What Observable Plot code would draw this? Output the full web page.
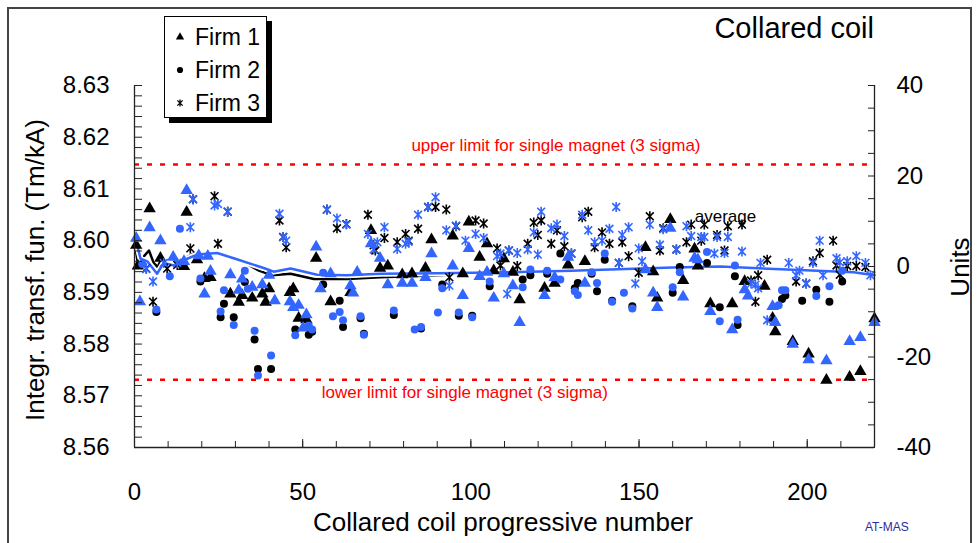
<!DOCTYPE html>
<html><head><meta charset="utf-8">
<script src="https://cdn.jsdelivr.net/npm/d3@7"></script>
<script src="https://cdn.jsdelivr.net/npm/@observablehq/plot@0.6"></script>
<style>
body{margin:0;background:#fff;font-family:"Liberation Sans",Arial,sans-serif}
#wrap{position:relative;width:978px;height:543px;overflow:hidden;background:#fff}
#wrap svg{position:absolute;left:0;top:0}
</style></head><body><div id="wrap"></div>
<script>
// ---- data: [coil number, integrated transfer function (Tm/kA)] ----
const firm1Black = [[0.5,8.5991],[1,8.5951],[4.5,8.6062],[7.7,8.5966],[14.7,8.5950],[15.5,8.6055],[18.6,8.5963],[20.8,8.5927],[22.6,8.5929],[28.5,8.5897],[31,8.5881],[32,8.5894],[35,8.5889],[38,8.5897],[39,8.5881],[40,8.5907],[46.2,8.5900],[47.2,8.5907],[48.8,8.5850],[51.1,8.5847],[54,8.5966],[58.3,8.5882],[64.2,8.5900],[70.3,8.6020],[73,8.5947],[75.3,8.5951],[79.6,8.5934],[82.5,8.5936],[86.5,8.5947],[88.3,8.6002],[94.6,8.6009],[97.6,8.5936],[99.4,8.6036],[102.6,8.5968],[104.8,8.5994],[106.8,8.5942],[109.8,8.5965],[112.5,8.5939],[114.5,8.5886],[121.9,8.5908],[124.9,8.5918],[128.9,8.5953],[133.9,8.5960],[151.9,8.5987],[154.2,8.5940],[155.4,8.5889],[159.3,8.6041],[163.1,8.5923],[166.5,8.5984],[167.5,8.5951],[171.2,8.5878],[177.7,8.5878],[181.4,8.5921],[187.3,8.5912],[189.7,8.5850],[190.5,8.5824],[195.7,8.5805],[200.4,8.5781],[205.7,8.5730],[212.6,8.5736],[215.8,8.5747],[220,8.5849]];
const firm1Blue = [[0.5,8.6005],[1.6,8.5882],[4.5,8.6025],[7.7,8.6000],[11.5,8.5968],[14.7,8.5960],[15.5,8.6097],[19.1,8.5971],[20.8,8.5897],[21.8,8.5970],[22.6,8.5941],[28.5,8.5934],[31,8.5904],[32,8.5926],[35,8.5910],[38,8.5915],[40,8.5933],[41.7,8.5884],[46.2,8.5882],[47.2,8.5871],[48.8,8.5875],[50.1,8.5831],[51.1,8.5857],[54,8.5988],[55.3,8.5907],[58.3,8.5936],[64.2,8.5913],[65,8.5899],[66.2,8.5939],[70.3,8.5994],[73,8.5966],[75.3,8.5915],[79.6,8.5918],[82.5,8.5918],[86.5,8.5929],[88.3,8.5975],[94.6,8.5951],[97.6,8.5894],[99.4,8.5985],[102.6,8.5931],[104.8,8.5939],[106.8,8.5889],[109.8,8.5936],[112.5,8.5913],[114.5,8.5842],[121.9,8.5894],[124.9,8.5929],[128.9,8.5968],[133.9,8.5918],[151.9,8.5944],[154.2,8.5899],[155.4,8.5871],[159.3,8.6024],[163.1,8.5891],[166.5,8.5966],[167.5,8.5963],[171.2,8.5863],[177.7,8.5828],[181.4,8.5905],[182.4,8.5893],[189.7,8.5873],[190.5,8.5842],[195.7,8.5800],[200.4,8.5770],[205.7,8.5768],[212.6,8.5805],[215.8,8.5813],[220,8.5842]];
const firm2Black = [[6.5,8.5862],[19.6,8.5921],[25.6,8.5852],[26.6,8.5878],[29.5,8.5852],[32.8,8.5920],[35.7,8.5809],[36.7,8.5752],[40.6,8.5752],[47.8,8.5828],[51.8,8.5818],[52.8,8.5824],[56.1,8.5915],[61,8.5884],[62,8.5833],[67.2,8.5850],[68.2,8.5820],[77.1,8.5856],[85.2,8.5830],[91.5,8.5915],[96.4,8.5855],[100.4,8.5855],[105.6,8.5912],[115.4,8.5925],[117.7,8.5933],[122.7,8.5936],[126.6,8.5975],[130.9,8.5908],[131.8,8.5918],[135.9,8.5936],[137.5,8.5902],[139.8,8.5963],[142,8.5884],[148,8.5873],[160,8.5899],[162.1,8.5949],[170.2,8.5957],[174,8.5871],[178.5,8.5931],[179.3,8.5837],[192.5,8.5887],[193.5,8.5894],[198.5,8.5884],[202.7,8.5905],[206.6,8.5882],[210.4,8.5921]];
const firm2Blue = [[2.3,8.5955],[6.5,8.5867],[10.5,8.5931],[13.5,8.6023],[19.6,8.5927],[25.6,8.5863],[26.6,8.5904],[29.5,8.5837],[32.8,8.5942],[33.7,8.5907],[35.7,8.5826],[36.7,8.5739],[40.6,8.5778],[47.8,8.5817],[51.8,8.5836],[52.8,8.5828],[56.1,8.5938],[59,8.5854],[61,8.5862],[62,8.5846],[67.2,8.5854],[68.2,8.5818],[77.1,8.5865],[83.3,8.5828],[85.2,8.5833],[90.2,8.5861],[91.5,8.5908],[96.4,8.5861],[100.4,8.5852],[105.6,8.5921],[115.4,8.5910],[117.7,8.5944],[122.7,8.5942],[126.6,8.5925],[130.9,8.5902],[131.8,8.5895],[135.9,8.5939],[137.5,8.5918],[139.8,8.5975],[142,8.5882],[145.5,8.5899],[148,8.5869],[160,8.5910],[162.1,8.5939],[170.2,8.5978],[174,8.5844],[178.5,8.5952],[179.3,8.5847],[191.5,8.5875],[192.5,8.5904],[193.5,8.5904],[202.7,8.5893],[206.6,8.5912],[210.4,8.5942]];
const firm3Black = [[3.5,8.5946],[5.5,8.5882],[9.7,8.5946],[12.7,8.5953],[16.6,8.5985],[17.4,8.6080],[23.8,8.6086],[24.8,8.5994],[27.7,8.6056],[43.1,8.6039],[44.2,8.6007],[45.1,8.5987],[57.2,8.6060],[60.2,8.6024],[63,8.6032],[69.4,8.6050],[71.1,8.5991],[71.6,8.5981],[74.3,8.6005],[78.1,8.5997],[80.6,8.6013],[81.5,8.6000],[84.3,8.6023],[87.3,8.6065],[89.5,8.6065],[92.7,8.6060],[93.6,8.5929],[95.6,8.6028],[101.4,8.6039],[103.8,8.6033],[107.8,8.5985],[108.8,8.5952],[111.3,8.5981],[113.8,8.5951],[116.9,8.5994],[118.7,8.6035],[119.9,8.6011],[120.9,8.6039],[123.9,8.5994],[125.6,8.6020],[127.8,8.5989],[129.9,8.5975],[133.1,8.6045],[134.9,8.6056],[136.8,8.5987],[139,8.6016],[141.2,8.5994],[144,8.5957],[145,8.5997],[146.9,8.5970],[149.9,8.5938],[153.2,8.6047],[156.2,8.5981],[157.2,8.6024],[161.1,8.5983],[164.1,8.5997],[165.5,8.6031],[168.5,8.6000],[169.4,8.6031],[173.2,8.6011],[175.4,8.5981],[176.4,8.6028],[180.6,8.6031],[183.3,8.5923],[184.6,8.5882],[185.4,8.5933],[188.1,8.5963],[196.7,8.5921],[199.7,8.5917],[201.7,8.5960],[203.7,8.5976],[207.7,8.6000],[208.7,8.5952],[209.7,8.5934],[211.9,8.5951],[214.6,8.5951],[217.3,8.5949]];
const firm3Blue = [[3.5,8.5945],[5.5,8.5921],[8.7,8.5957],[12.7,8.5957],[16.6,8.6026],[17.4,8.6080],[23.8,8.6068],[24.8,8.6071],[27.7,8.6056],[43.1,8.6052],[44.2,8.6007],[45.1,8.6000],[57.2,8.6060],[60.2,8.6043],[63,8.6031],[69.4,8.6013],[71.1,8.5983],[72.2,8.5997],[74.3,8.6026],[78.1,8.5984],[80.6,8.5994],[81.5,8.5998],[84.3,8.6050],[87.3,8.6065],[89.5,8.6084],[92.7,8.6020],[93.6,8.5913],[95.6,8.6029],[98.4,8.6000],[101.4,8.6013],[103.8,8.6005],[107.8,8.5970],[108.8,8.5975],[110.8,8.5897],[111.3,8.5981],[113.8,8.5976],[116.9,8.5983],[118.7,8.6016],[119.9,8.5973],[120.9,8.6056],[123.9,8.6024],[125.6,8.6031],[127.8,8.6009],[129.9,8.5975],[133.1,8.6050],[134.9,8.6020],[136.8,8.5997],[139,8.6000],[141.2,8.6023],[143.2,8.6065],[144,8.5957],[145,8.6011],[146.9,8.6026],[148.9,8.5917],[149.9,8.5985],[150.9,8.5960],[153.2,8.6031],[156.2,8.5992],[157.2,8.6022],[161.1,8.5983],[164.1,8.6028],[165.5,8.6009],[168.5,8.6007],[169.4,8.6007],[172.4,8.5975],[173.2,8.6007],[175.4,8.5976],[176.4,8.6007],[180.6,8.5979],[183.3,8.5917],[184.6,8.5915],[185.4,8.5908],[186.1,8.5957],[188.1,8.5846],[194.5,8.5957],[196.7,8.5933],[197.7,8.5942],[199.7,8.5917],[201.7,8.5957],[203.7,8.6000],[204.7,8.5933],[208.7,8.5966],[209.7,8.5958],[211.9,8.5960],[214.6,8.5970],[217.3,8.5957],[218.8,8.5933]];
const averageBlack = [[0.3,8.5987],[1.0,8.5955],[2.3,8.5966],[4.3,8.5981],[5.7,8.5957],[6.9,8.5949],[8.2,8.5968],[9.2,8.5955],[11.7,8.5957],[14.7,8.5965],[17.6,8.5975],[21.6,8.5971],[24.6,8.5975],[28.5,8.5966],[33.5,8.5955],[37,8.5942],[40.9,8.5933],[46.4,8.5936],[53.3,8.5926],[63.2,8.5926],[73.1,8.5929],[90,8.5933],[106.3,8.5938],[125,8.5941],[141,8.5944],[160,8.5948],[179.2,8.5951],[195,8.5946],[205.9,8.5942],[220,8.5938]];
const averageBlue = [[0.3,8.6004],[1.8,8.5965],[3.8,8.5960],[6.7,8.5936],[8.7,8.5957],[11.7,8.5952],[15.7,8.5965],[18.6,8.5973],[24.6,8.5976],[29.5,8.5966],[38.4,8.5947],[41.4,8.5940],[46.4,8.5946],[54.3,8.5934],[63.2,8.5933],[73.1,8.5936],[90,8.5937],[111.3,8.5939],[130,8.5942],[146,8.5945],[160,8.5948],[174.2,8.5950],[194,8.5944],[213.8,8.5939],[220,8.5933]];
const upperLimit = 8.6147, lowerLimit = 8.5731;
const limitLabels = [
  {n:125.3, value:upperLimit, text:"upper limit for single magnet (3 sigma)", side:"up"},
  {n:98.2, value:lowerLimit, text:"lower limit for single magnet (3 sigma)", side:"down"}
];
const averageNote = [{n:175.7, value:8.6047, text:"average"}];
const yTicksMajor = [8.56,8.57,8.58,8.59,8.60,8.61,8.62,8.63];
const yTicksMinor = d3.range(0,36).map(i => +(8.56 + i*0.002).toFixed(3));
const xTicksMajor = [0,50,100,150,200];
const xTicksMinor = d3.range(0,221,10);
const unitZero = 8.595, unitStep = 0.000875; // right axis: "Units"
const unitTicksMajor = [-40,-20,0,20,40];
const unitTicksMinor = d3.range(-40,41,5);
const toV = u => unitZero + u*unitStep;

const BLUE = "#3366ff";
const FONT = "Liberation Sans, Arial, sans-serif";
const px = d => d[0], py = d => d[1];

// star marker: X with a vertical bar (spreadsheet-style "star")
const starSymbol = {
  draw(context, size) {
    const r = Math.sqrt(size / Math.PI), k = r * 0.78;
    context.moveTo(0, -r); context.lineTo(0, r);
    context.moveTo(-k, -k); context.lineTo(k, k);
    context.moveTo(-k, k); context.lineTo(k, -k);
  }
};

const chart = Plot.plot({
  width: 978, height: 543,
  marginLeft: 134, marginRight: 104, marginTop: 85, marginBottom: 96,
  style: {fontFamily: FONT, background: "transparent", color: "black", overflow: "visible"},
  x: {domain: [0, 220], label: null},
  y: {domain: [8.56, 8.63], label: null},
  marks: [
    Plot.ruleY([upperLimit, lowerLimit], {stroke: "#ff0000", strokeWidth: 2.5, strokeDasharray: "5,8"}),
    Plot.text(limitLabels.filter(d => d.side === "up"), {x: "n", y: "value", text: "text", dy: -19, fill: "#ff0000", fontSize: 17}),
    Plot.text(limitLabels.filter(d => d.side === "down"), {x: "n", y: "value", text: "text", dy: 13, fill: "#ff0000", fontSize: 17}),
    // averages with white halo
    Plot.line(averageBlack, {x: px, y: py, stroke: "white", strokeWidth: 6}),
    Plot.line(averageBlack, {x: px, y: py, stroke: "black", strokeWidth: 2.5}),
    Plot.line(averageBlue, {x: px, y: py, stroke: "white", strokeWidth: 6}),
    Plot.line(averageBlue, {x: px, y: py, stroke: BLUE, strokeWidth: 2.5}),
    // black measurements
    Plot.dot(firm1Black, {x: px, y: py, symbol: "triangle", fill: "black", r: 4.6}),
    Plot.dot(firm2Black, {x: px, y: py, symbol: "circle", fill: "black", r: 4}),
    Plot.dot(firm3Black, {x: px, y: py, symbol: starSymbol, stroke: "black", strokeWidth: 1.6, r: 5}),
    // blue measurements
    Plot.dot(firm1Blue, {x: px, y: py, symbol: "triangle", fill: BLUE, r: 4.6}),
    Plot.dot(firm2Blue, {x: px, y: py, symbol: "circle", fill: BLUE, r: 4}),
    Plot.dot(firm3Blue, {x: px, y: py, symbol: starSymbol, stroke: BLUE, strokeWidth: 1.6, r: 5}),
    Plot.text(averageNote, {x: "n", y: "value", text: "text", fontSize: 17, fill: "black"}),
    // axis lines
    Plot.ruleX([0, 220], {stroke: "#222", strokeWidth: 1.3}),
    Plot.ruleY([8.56], {stroke: "#222", strokeWidth: 1.3}),
    // left axis
    Plot.axisY(yTicksMinor, {anchor: "left", tickSize: -8, tickFormat: () => "", stroke: "#222"}),
    Plot.axisY(yTicksMajor, {anchor: "left", tickSize: 0, tickPadding: 25, tickFormat: d3.format(".2f"), fontSize: 24, fill: "black"}),
    // right axis (Units)
    Plot.axisY(unitTicksMinor.map(toV), {anchor: "right", tickSize: -7, tickFormat: () => "", stroke: "#222"}),
    Plot.axisY(unitTicksMajor.map(toV), {anchor: "right", tickSize: 0, tickPadding: 22, tickFormat: v => String(Math.round((v - unitZero)/unitStep)), fontSize: 24, fill: "black"}),
    // bottom axis
    Plot.axisX(xTicksMinor, {anchor: "bottom", tickSize: -6, tickFormat: () => "", stroke: "#222"}),
    Plot.axisX(xTicksMajor, {anchor: "bottom", tickSize: -8, tickFormat: () => "", stroke: "#222"}),
    Plot.axisX(xTicksMajor, {anchor: "bottom", tickSize: 0, tickPadding: 35, fontSize: 24, fill: "black"})
  ]
});
const wrap = document.getElementById("wrap");
wrap.appendChild(chart);

// ---- overlay: frame, title, axis titles, legend, credit ----
const ov = d3.select(wrap).append("svg").attr("width", 978).attr("height", 543)
  .style("font-family", FONT).style("pointer-events", "none");
ov.append("rect").attr("x", 8).attr("y", 8).attr("width", 963).attr("height", 560)
  .attr("fill", "none").attr("stroke", "#444").attr("stroke-width", 2);
ov.append("text").attr("x", 874).attr("y", 38).attr("text-anchor", "end").attr("font-size", 29).text("Collared coil");
ov.append("text").attr("transform", "translate(44,270) rotate(-90)").attr("text-anchor", "middle").attr("font-size", 26).text("Integr. transf. fun. (Tm/kA)");
ov.append("text").attr("transform", "translate(969,267) rotate(-90)").attr("text-anchor", "middle").attr("font-size", 26).text("Units");
ov.append("text").attr("x", 503).attr("y", 531).attr("text-anchor", "middle").attr("font-size", 26).text("Collared coil progressive number");
ov.append("text").attr("x", 865).attr("y", 531).attr("font-size", 12).attr("fill", "#2b2b9c").text("AT-MAS");

const legendItems = [{label: "Firm 1", symbol: d3.symbolTriangle, fill: true}, {label: "Firm 2", symbol: d3.symbolCircle, fill: true}, {label: "Firm 3", symbol: starSymbol, fill: false}];
const lg = ov.append("g").attr("transform", "translate(164,16)");
lg.append("rect").attr("x", 5).attr("y", 5).attr("width", 103).attr("height", 102).attr("fill", "black");
lg.append("rect").attr("x", 0.5).attr("y", 0.5).attr("width", 102).attr("height", 101).attr("fill", "white").attr("stroke", "black");
legendItems.forEach((d, i) => {
  const cy = 21 + i*33;
  lg.append("path").attr("transform", `translate(16,${cy})`).attr("d", d3.symbol(d.symbol, d.fill ? 30 : 36)())
    .attr("fill", d.fill ? "black" : "none").attr("stroke", d.fill ? "none" : "black").attr("stroke-width", 1.3);
  lg.append("text").attr("x", 31).attr("y", cy + 8).attr("font-size", 23).text(d.label);
});
</script></body></html>
